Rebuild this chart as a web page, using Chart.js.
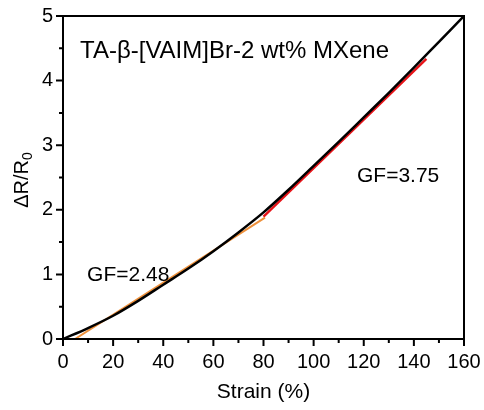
<!DOCTYPE html>
<html>
<head>
<meta charset="utf-8">
<script src="https://cdn.jsdelivr.net/npm/chart.js@4.4.1/dist/chart.umd.min.js"></script>
<style>
  body { margin: 0; background: #fff; }
</style>
</head>
<body>
<canvas id="myChart" width="484" height="410"></canvas>
<script>
// measured curve (strain %, dR/R0)
const strain = [0, 10, 20, 30, 40, 50, 60, 70, 80, 90, 100, 110, 120, 130, 140, 150, 160];
const resistance = [0, 0.17, 0.36, 0.59, 0.84, 1.09, 1.36, 1.65, 1.96, 2.31, 2.68, 3.05, 3.43, 3.81, 4.20, 4.60, 5.0];
// linear fits
const fitLowX = [4.8, 80.6];
const fitLowY = [0, 1.88];
const fitHighX = [80, 145];
const fitHighY = [1.895, 4.335];
// axis ticks
const xTicks = [0, 20, 40, 60, 80, 100, 120, 140, 160];
const yTicks = [0, 1, 2, 3, 4, 5];
const sampleName = 'TA-β-[VAIM]Br-2 wt% MXene';
const gfLow = 'GF=2.48';
const gfHigh = 'GF=3.75';

const FONT = '"Liberation Sans", Arial, sans-serif';

function pairs(xs, ys) {
    return xs.map((x, i) => ({ x: x, y: ys[i] }));
}

// frame, outward major/minor ticks, y title with subscript, text notes
const framePlugin = {
    id: 'frame',
    afterDraw(chart) {
        const ctx = chart.ctx;
        const a = chart.chartArea;
        const xs = chart.scales.x;
        const ys = chart.scales.y;
        ctx.save();
        ctx.strokeStyle = '#000';
        ctx.lineWidth = 2;
        ctx.strokeRect(a.left, a.top, a.right - a.left, a.bottom - a.top);
        ctx.beginPath();
        for (let i = 0; i < xTicks.length; i++) {
            let px = xs.getPixelForValue(xTicks[i]);
            ctx.moveTo(px, a.bottom);
            ctx.lineTo(px, a.bottom + 7);
            if (i < xTicks.length - 1) {
                let mx = xs.getPixelForValue((xTicks[i] + xTicks[i + 1]) / 2);
                ctx.moveTo(mx, a.bottom);
                ctx.lineTo(mx, a.bottom + 4);
            }
        }
        for (let i = 0; i < yTicks.length; i++) {
            let py = ys.getPixelForValue(yTicks[i]);
            ctx.moveTo(a.left, py);
            ctx.lineTo(a.left - 7, py);
            if (i < yTicks.length - 1) {
                let my = ys.getPixelForValue((yTicks[i] + yTicks[i + 1]) / 2);
                ctx.moveTo(a.left, my);
                ctx.lineTo(a.left - 4, my);
            }
        }
        ctx.stroke();

        ctx.fillStyle = '#000';
        ctx.textBaseline = 'middle';
        ctx.textAlign = 'left';
        ctx.font = '24px ' + FONT;
        ctx.fillText(sampleName, xs.getPixelForValue(6.8), ys.getPixelForValue(4.45));
        ctx.font = '21px ' + FONT;
        ctx.fillText(gfLow, xs.getPixelForValue(9.6), ys.getPixelForValue(0.99));
        ctx.fillText(gfHigh, xs.getPixelForValue(117.3), ys.getPixelForValue(2.52));

        // y axis title: ΔR/R0
        ctx.translate(22, 180);
        ctx.rotate(-Math.PI / 2);
        ctx.font = '20px ' + FONT;
        const main = 'ΔR/R';
        const w = ctx.measureText(main).width;
        ctx.font = '14px ' + FONT;
        const ws = ctx.measureText('0').width;
        const start = -(w + ws) / 2;
        ctx.font = '20px ' + FONT;
        ctx.fillText(main, start, 0);
        ctx.font = '14px ' + FONT;
        ctx.fillText('0', start + w, 6);
        ctx.restore();
    }
};

const ctx = document.getElementById('myChart').getContext('2d');
const myChart = new Chart(ctx, {
    type: 'line',
    data: {
        datasets: [{
                label: 'data',
                data: pairs(strain, resistance),
                borderColor: '#000',
                borderWidth: 2.5,
                pointRadius: 0,
                cubicInterpolationMode: 'monotone',
                order: 0
            }, {
                label: 'fit low',
                data: pairs(fitLowX, fitLowY),
                borderColor: 'rgb(238, 145, 60)',
                borderWidth: 2,
                pointRadius: 0,
                order: 1
            }, {
                label: 'fit high',
                data: pairs(fitHighX, fitHighY),
                borderColor: 'rgb(230, 20, 25)',
                borderWidth: 2.5,
                pointRadius: 0,
                order: 1
            }]
    },
    options: {
        responsive: false,
        animation: false,
        layout: {
            padding: { top: 16, right: 20, left: 0, bottom: 0 }
        },
        plugins: {
            legend: { display: false },
            tooltip: { enabled: false }
        },
        scales: {
            x: {
                type: 'linear',
                min: 0,
                max: 160,
                afterBuildTicks: (scale) => { scale.ticks = xTicks.map(v => ({ value: v })); },
                afterFit: (scale) => {
                    scale.height = 71;
                    scale.paddingLeft = 0;
                    scale.paddingRight = 0;
                },
                grid: { display: false, drawTicks: false },
                border: { display: false },
                ticks: {
                    color: '#000',
                    padding: 11,
                    maxRotation: 0,
                    autoSkip: false,
                    font: { family: FONT, size: 20 }
                },
                title: {
                    display: true,
                    text: 'Strain (%)',
                    color: '#000',
                    padding: { top: 0, bottom: 5 },
                    font: { family: FONT, size: 21, lineHeight: 1.2 }
                }
            },
            y: {
                min: 0,
                max: 5,
                afterBuildTicks: (scale) => { scale.ticks = yTicks.map(v => ({ value: v })); },
                afterFit: (scale) => {
                    scale.width = 63;
                    scale.paddingTop = 0;
                    scale.paddingBottom = 0;
                },
                grid: { display: false, drawTicks: false },
                border: { display: false },
                ticks: {
                    color: '#000',
                    padding: 10,
                    font: { family: FONT, size: 20 }
                }
            }
        }
    },
    plugins: [framePlugin]
});
</script>
</body>
</html>
